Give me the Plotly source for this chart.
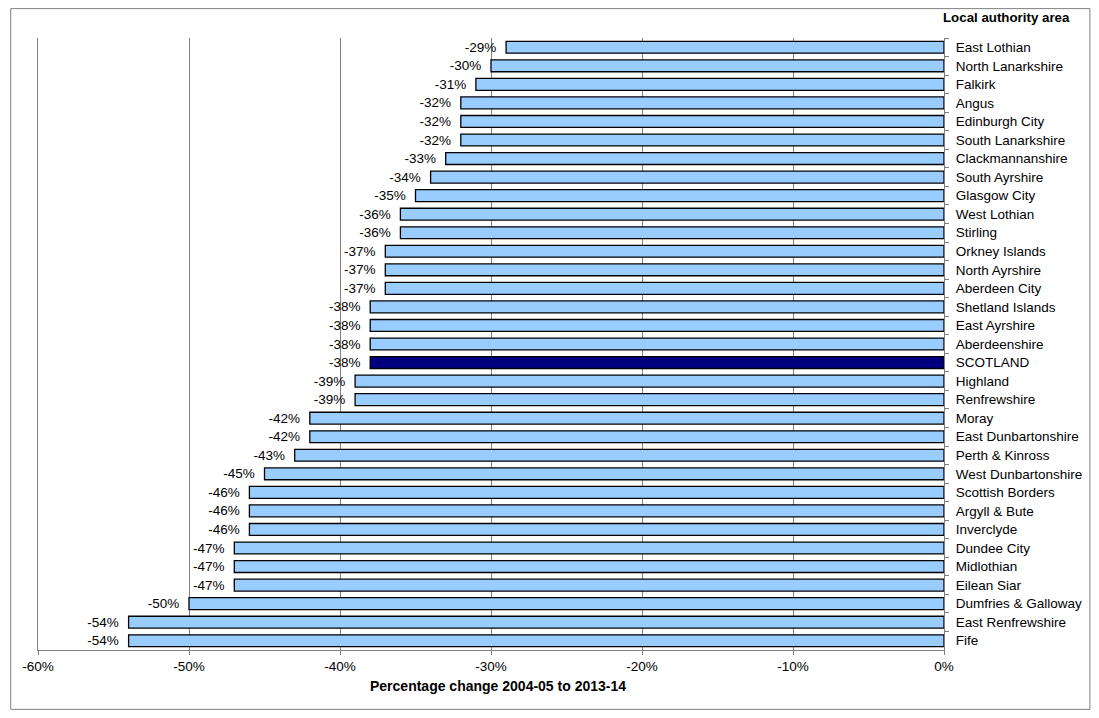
import plotly.graph_objects as go

# Local authority areas, top to bottom as shown
areas = ["East Lothian", "North Lanarkshire", "Falkirk", "Angus", "Edinburgh City",
         "South Lanarkshire", "Clackmannanshire", "South Ayrshire", "Glasgow City",
         "West Lothian", "Stirling", "Orkney Islands", "North Ayrshire", "Aberdeen City",
         "Shetland Islands", "East Ayrshire", "Aberdeenshire", "SCOTLAND", "Highland",
         "Renfrewshire", "Moray", "East Dunbartonshire", "Perth & Kinross",
         "West Dunbartonshire", "Scottish Borders", "Argyll & Bute", "Inverclyde",
         "Dundee City", "Midlothian", "Eilean Siar", "Dumfries & Galloway",
         "East Renfrewshire", "Fife"]
change = [-29, -30, -31, -32, -32, -32, -33, -34, -35, -36, -36, -37, -37, -37,
          -38, -38, -38, -38, -39, -39, -42, -42, -43, -45, -46, -46, -46,
          -47, -47, -47, -50, -54, -54]

tick_vals = [-60, -50, -40, -30, -20, -10, 0]
tick_text = ["-60%", "-50%", "-40%", "-30%", "-20%", "-10%", "0%"]

colors = ["#000080" if a == "SCOTLAND" else "#99CCFF" for a in areas]

fig = go.Figure(go.Bar(
    x=change, y=areas, orientation="h",
    marker=dict(color=colors, line=dict(color="black", width=1.3)),
    width=0.64,
    text=[f"{v}%\u2002" for v in change], textposition="outside",
    constraintext="none",
    textfont=dict(size=13.5, color="black"), cliponaxis=False,
))

fig.update_layout(
    width=1083, height=702,
    margin=dict(l=30, r=147, t=30, b=60),
    paper_bgcolor="white", plot_bgcolor="white",
    font=dict(family="Liberation Sans, Arial", size=13.5, color="black"),
    showlegend=False,
    xaxis=dict(
        range=[-60, 0], tickvals=tick_vals, ticktext=tick_text, automargin=False,
        showgrid=True, gridcolor="#808080", gridwidth=1,
        showline=True, linecolor="#808080", ticks="outside", tickcolor="#808080", ticklen=4,
        zeroline=False, tickfont=dict(size=13.5),
    ),
    yaxis=dict(
        side="right", autorange="reversed", type="category", automargin=False,
        showline=True, linecolor="#808080", mirror=True, ticks="outside", tickson="boundaries",
        tickcolor="#808080", ticklen=4, showgrid=False, ticklabelstandoff=8,
        tickfont=dict(size=13.5),
    ),
    annotations=[
        dict(text="<b>Local authority area</b>", xref="paper", yref="paper",
             x=1.141, y=1.033, xanchor="right", yanchor="middle",
             showarrow=False, font=dict(size=13.3)),
        dict(text="<b>Percentage change 2004-05 to 2013-14</b>", xref="paper", yref="paper",
             x=0.508, y=-0.0588, xanchor="center", yanchor="middle",
             showarrow=False, font=dict(size=14)),
    ],
    shapes=[dict(type="rect", xref="paper", yref="paper",
                 x0=-0.0301, x1=1.161, y0=-0.097, y1=1.048,
                 line=dict(color="#808080", width=1))],
)

fig.write_html("out.html")
